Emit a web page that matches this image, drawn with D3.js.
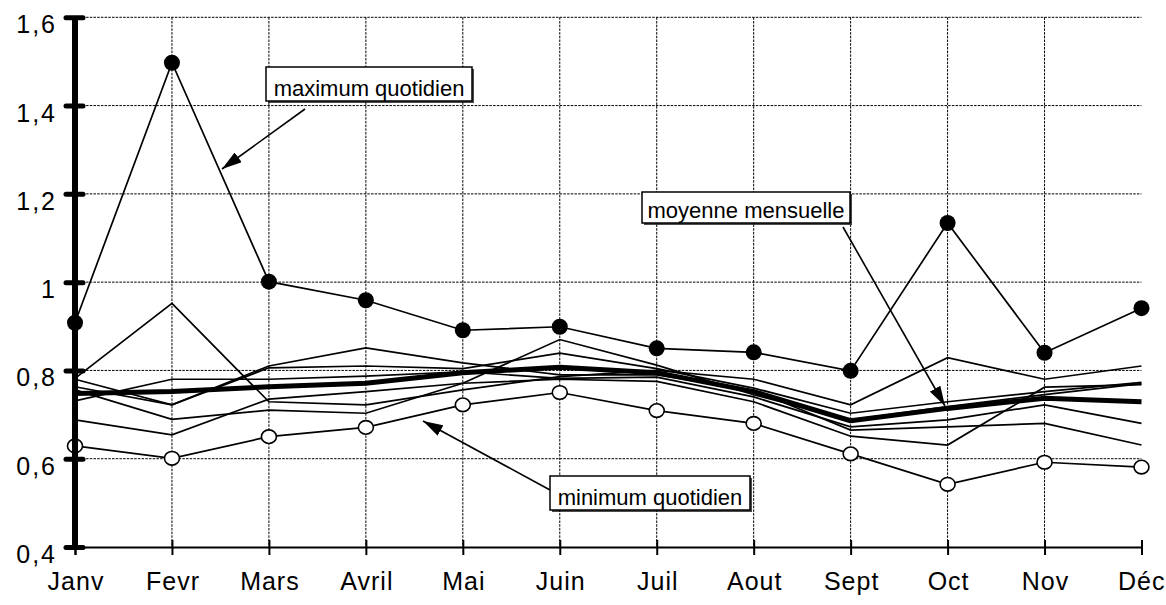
<!DOCTYPE html>
<html>
<head>
<meta charset="utf-8">
<script src="https://cdn.jsdelivr.net/npm/d3@7"></script>
<style>
  body { margin: 0; background: #fff; }
  svg { display: block; }
  text { font-family: Arial, "Liberation Sans", sans-serif; fill: #000; }
</style>
</head>
<body>
<div id="chart"></div>
<script>
// months and y ticks
var months = ["Janv","Fevr","Mars","Avril","Mai","Juin","Juil","Aout","Sept","Oct","Nov","Déc"];
var yTicks = [0.4,0.6,0.8,1.0,1.2,1.4,1.6];

// daily max / min and monthly mean
var maxQuot = [0.908,1.497,1.001,0.959,0.891,0.899,0.850,0.841,0.799,1.134,0.840,0.941];
var minQuot = [0.629,0.601,0.650,0.671,0.722,0.750,0.709,0.680,0.611,0.542,0.592,0.581];
var moyenne = [0.748,0.752,0.763,0.771,0.795,0.807,0.795,0.752,0.686,0.714,0.737,0.729];

// the thin yearly curves
var anneeA = [0.782,0.952,0.729,0.722,0.756,0.786,0.800,0.780,0.722,0.829,0.780,0.810];
var anneeB = [0.780,0.722,0.810,0.851,0.817,0.790,0.790,0.755,0.665,0.672,0.680,0.631];
var anneeC = [0.763,0.722,0.806,0.810,0.804,0.839,0.804,0.760,0.703,0.729,0.752,0.773];
var anneeD = [0.756,0.689,0.710,0.703,0.771,0.870,0.812,0.745,0.688,0.718,0.745,0.770];
var anneeE = [0.731,0.780,0.780,0.787,0.797,0.782,0.785,0.740,0.672,0.688,0.722,0.680];
var anneeF = [0.688,0.654,0.735,0.752,0.771,0.780,0.775,0.729,0.651,0.631,0.762,0.768];
var thinLines = [anneeA,anneeB,anneeC,anneeD,anneeE,anneeF];

var W = 1166, H = 605;
var svg = d3.select("#chart").append("svg").attr("width", W).attr("height", H);

var x = d3.scalePoint().domain(months).range([75, 1141.5]);
var y = d3.scaleLinear().domain([0.4,1.6]).range([547, 17.3]);

var fr = d3.formatLocale({decimal: ",", thousands: " ", grouping: [3], currency: ["", "€"]});
var fmt = fr.format("~g");

var defs = svg.append("defs");
defs.append("marker").attr("id","arrow")
  .attr("viewBox","0 0 20 12").attr("refX",20).attr("refY",6)
  .attr("markerWidth",20).attr("markerHeight",12)
  .attr("markerUnits","userSpaceOnUse").attr("orient","auto")
  .append("path").attr("d","M0,0 L20,6 L0,12 Z").attr("fill","#000");

// grid
var grid = svg.append("g");
grid.selectAll(".hg").data(yTicks.slice(1)).enter().append("line")
  .attr("x1", x.range()[0]).attr("x2", x.range()[1])
  .attr("y1", d => y(d)).attr("y2", d => y(d))
  .attr("stroke","#000").attr("stroke-width",1).attr("stroke-dasharray","2.5,1.2");
grid.selectAll(".vg").data(months.slice(1, 11)).enter().append("line")
  .attr("x1", d => x(d)).attr("x2", d => x(d))
  .attr("y1", y(1.6)).attr("y2", y(0.4))
  .attr("stroke","#000").attr("stroke-width",1).attr("stroke-dasharray","2.5,1.2");

var line = d3.line().x((d,i) => x(months[i])).y(d => y(d));

svg.append("g").selectAll("path").data(thinLines).enter().append("path")
  .attr("d", line).attr("fill","none").attr("stroke","#000").attr("stroke-width",1.7);

svg.append("path").attr("d", line(minQuot)).attr("fill","none").attr("stroke","#000").attr("stroke-width",1.7);
svg.append("path").attr("d", line(maxQuot)).attr("fill","none").attr("stroke","#000").attr("stroke-width",1.7);
svg.append("path").attr("d", line(moyenne)).attr("fill","none").attr("stroke","#000").attr("stroke-width",5)
  .attr("stroke-linejoin","round");

svg.append("g").selectAll("ellipse").data(minQuot).enter().append("ellipse")
  .attr("cx",(d,i) => x(months[i])).attr("cy", d => y(d)).attr("rx",7.5).attr("ry",6.8)
  .attr("fill","#fff").attr("stroke","#000").attr("stroke-width",1.6);
svg.append("g").selectAll("circle").data(maxQuot).enter().append("circle")
  .attr("cx",(d,i) => x(months[i])).attr("cy", d => y(d)).attr("r",8)
  .attr("fill","#000");

// axes
var yAxis = svg.append("g").attr("transform","translate(" + x.range()[0] + ",0)")
  .call(d3.axisLeft(y).tickValues(yTicks).tickFormat(fmt).tickSizeOuter(0));
yAxis.select(".domain").attr("stroke-width",6).attr("d","M0," + y(1.6) + "V" + y(0.4));
yAxis.selectAll(".tick line").attr("x1",8).attr("x2",-9).attr("stroke-width",5).attr("stroke-linecap","round");
yAxis.selectAll(".tick text").attr("x",-18).attr("dy","0.62em").style("font-size","25px")
  .style("letter-spacing","2px").attr("font-family",null);

var xAxis = svg.append("g").attr("transform","translate(0," + y(0.4) + ")")
  .call(d3.axisBottom(x).tickSizeOuter(0).tickSize(8));
xAxis.select(".domain").attr("stroke-width",2);
xAxis.selectAll(".tick line").attr("y1",-7).attr("y2",8).attr("stroke-width",2);
xAxis.selectAll(".tick text").attr("y",43).attr("dy",0).attr("dx",0.5).style("font-size","25px")
  .style("letter-spacing","1px").attr("font-family",null);
// last label would run off the right edge
xAxis.selectAll(".tick text").filter(d => d === "Déc").attr("text-anchor","end")
  .attr("dx",0).attr("x", W - 1 - x("Déc"));

// annotations
var notes = [
  {text:"maximum quotidien", x:266, y:67, w:206, h:34, from:[305,109], to:[222,169]},
  {text:"moyenne mensuelle", x:642, y:192, w:208, h:31, from:[843,227], to:[945,406]},
  {text:"minimum quotidien", x:550, y:476, w:200, h:34, from:[550,490], to:[423,421]}
];
var ng = svg.append("g");
notes.forEach(function(n){
  ng.append("line").attr("x1",n.from[0]).attr("y1",n.from[1]).attr("x2",n.to[0]).attr("y2",n.to[1])
    .attr("stroke","#000").attr("stroke-width",1.6).attr("marker-end","url(#arrow)");
  ng.append("rect").attr("x",n.x+2).attr("y",n.y+2).attr("width",n.w).attr("height",n.h)
    .attr("fill","#000").attr("opacity",0.7);
  ng.append("rect").attr("x",n.x).attr("y",n.y).attr("width",n.w).attr("height",n.h)
    .attr("fill","#fff").attr("stroke","#000").attr("stroke-width",1.5);
  ng.append("text").attr("x",n.x + n.w/2).attr("y",n.y + n.h - 5).attr("text-anchor","middle")
    .style("font-size","22px").text(n.text);
});
</script>
</body>
</html>
